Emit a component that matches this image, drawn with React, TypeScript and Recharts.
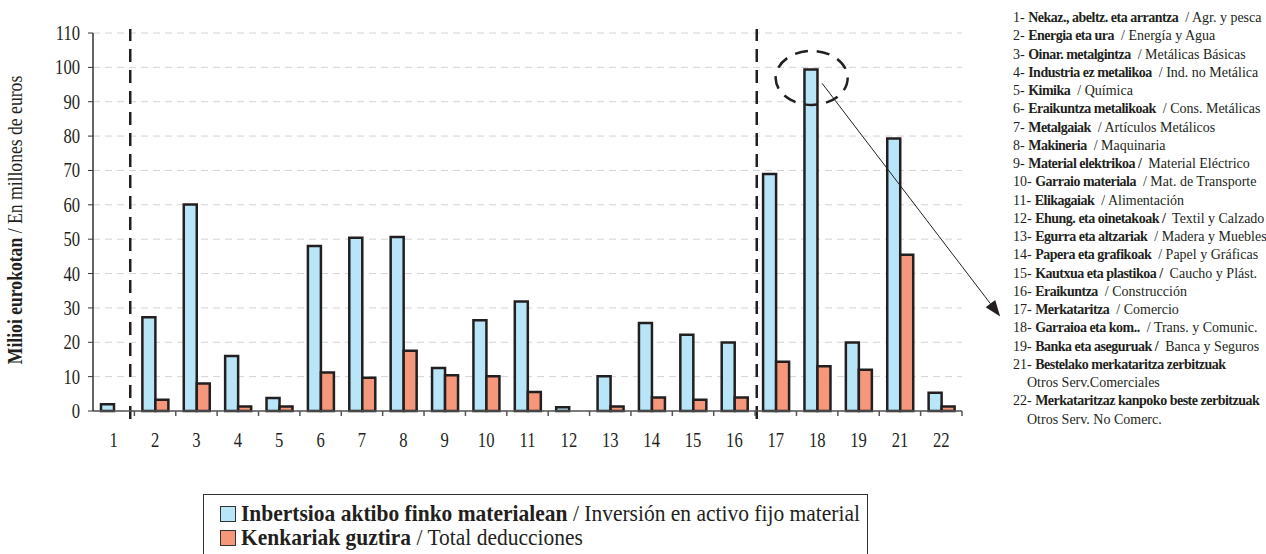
import React from 'react';
import { BarChart, Bar, XAxis, YAxis, CartesianGrid, ReferenceLine, ReferenceDot } from 'recharts';

// sector codes on the x axis
const categories = ['1', '2', '3', '4', '5', '6', '7', '8', '9', '10', '11', '12', '13', '14', '15', '16', '17', '18', '19', '21', '22'];

// Inbertsioa aktibo finko materialean / Inversión en activo fijo material
const inversion = [2.0, 27.3, 60.1, 16.0, 3.8, 48.0, 50.4, 50.6, 12.5, 26.4, 31.9, 1.1, 10.1, 25.6, 22.2, 19.9, 69.0, 99.4, 19.9, 79.3, 5.3];
// Kenkariak guztira / Total deducciones
const deducciones = [0, 3.3, 8.0, 1.3, 1.3, 11.2, 9.7, 17.5, 10.4, 10.1, 5.5, 0, 1.3, 3.9, 3.3, 3.9, 14.3, 13.0, 12.0, 45.5, 1.3];

const yTicks = [0, 10, 20, 30, 40, 50, 60, 70, 80, 90, 100, 110];

const sectorsEu = [
  'Nekaz., abeltz. eta arrantza', 'Energia eta ura', 'Oinar. metalgintza', 'Industria ez metalikoa', 'Kimika',
  'Eraikuntza metalikoak', 'Metalgaiak', 'Makineria', 'Material elektrikoa /', 'Garraio materiala',
  'Elikagaiak', 'Ehung. eta oinetakoak /', 'Egurra eta altzariak', 'Papera eta grafikoak', 'Kautxua eta plastikoa /',
  'Eraikuntza', 'Merkataritza', 'Garraioa eta kom..', 'Banka eta aseguruak /', 'Bestelako merkataritza zerbitzuak',
  'Merkataritzaz kanpoko beste zerbitzuak',
];
const sectorsEs = [
  '/ Agr. y pesca', '/ Energía y Agua', '/ Metálicas Básicas', '/ Ind. no Metálica', '/ Química',
  '/ Cons. Metálicas', '/ Artículos Metálicos', '/ Maquinaria', 'Material Eléctrico', '/ Mat. de Transporte',
  '/ Alimentación', 'Textil y Calzado', '/ Madera y Muebles', '/ Papel y Gráficas', 'Caucho y Plást.',
  '/ Construcción', '/ Comercio', '/ Trans. y Comunic.', 'Banca y Seguros', 'Otros Serv.Comerciales',
  'Otros Serv. No Comerc.',
];

const chartData = categories.map((c, i) => ({
  idx: i + 1,
  label: c,
  inversion: inversion[i],
  deducciones: deducciones[i],
}));

const FONT = '"Liberation Serif", "DejaVu Serif", serif';
const BLUE = '#b9e5f9';
const ORANGE = '#f4977b';
const INK = '#231f20';

const PLOT_LEFT = 93;
const PLOT_RIGHT = 962;
const BAND = (PLOT_RIGHT - PLOT_LEFT) / categories.length;
// the source uses a narrow Times, so text is squeezed horizontally
const NARROW = 0.83;

const XTick = (props: any) => {
  const { x, y, payload } = props;
  const edge = x + BAND / 2;
  return (
    <g>
      <line x1={edge} x2={edge} y1={y} y2={y + 5} stroke="#555" strokeWidth={1.5} />
      <text transform={`translate(${x},${y + 35.5}) scale(${NARROW},1)`} textAnchor="middle" fontSize={20} fill={INK} fontFamily={FONT}>
        {categories[payload.value - 1]}
      </text>
    </g>
  );
};

const YTick = (props: any) => {
  const { x, y, payload } = props;
  return (
    <text transform={`translate(${x},${y + 7}) scale(${NARROW},1)`} textAnchor="end" fontSize={20} fill={INK} fontFamily={FONT}>
      {payload.value}
    </text>
  );
};

// dashed circle round bar 18 and the arrow pointing to the sector list
const Highlight = (props: any) => {
  const { cx, cy } = props;
  const x1 = cx + 5;
  const y1 = cy + 14;
  const x2 = cx + 183;
  const y2 = cy + 247;
  const len = Math.hypot(x2 - x1, y2 - y1);
  const ux = (x2 - x1) / len;
  const uy = (y2 - y1) / len;
  const bx = x2 - ux * 16;
  const by = y2 - uy * 16;
  const head = `${x2},${y2} ${bx - uy * 6},${by + ux * 6} ${bx + uy * 6},${by - ux * 6}`;
  return (
    <g>
      <ellipse cx={cx - 5.5} cy={cy + 8.5} rx={36} ry={27} fill="none" stroke={INK} strokeWidth={2.5} strokeDasharray="13 9" />
      <line x1={x1} y1={y1} x2={bx} y2={by} stroke={INK} strokeWidth={1} />
      <polygon points={head} fill={INK} />
    </g>
  );
};

const App: React.FC = () => {
  return (
    <div style={{ position: 'absolute', left: 0, top: 0, width: 1266, height: 554, background: '#fff', fontFamily: FONT, color: INK, overflow: 'hidden' }}>
      <BarChart
        width={1266}
        height={460}
        data={chartData}
        margin={{ top: 33, right: 1266 - PLOT_RIGHT, left: 0, bottom: 19 }}
        barGap={0}
      >
        <CartesianGrid horizontal vertical={false} stroke="#d4d4d4" strokeDasharray="7 5" />
        <XAxis
          dataKey="idx"
          type="number"
          domain={[0.5, categories.length + 0.5]}
          ticks={chartData.map(d => d.idx)}
          interval={0}
          height={30}
          tickLine={false}
          tickSize={0}
          tickMargin={0}
          tick={<XTick />}
          axisLine={{ stroke: '#555', strokeWidth: 1.5 }}
        />
        <YAxis
          width={PLOT_LEFT}
          domain={[0, 110]}
          ticks={yTicks}
          interval={0}
          tickSize={5}
          tickMargin={8}
          tick={<YTick />}
          tickLine={{ stroke: '#333' }}
          axisLine={{ stroke: '#333', strokeWidth: 1.5 }}
        />
        <ReferenceLine
          segment={[{ x: 1.4, y: -2.3 }, { x: 1.4, y: 111.2 }]}
          ifOverflow="visible"
          stroke={INK}
          strokeWidth={2.5}
          strokeDasharray="13 8"
        />
        <ReferenceLine
          segment={[{ x: 16.54, y: -2.3 }, { x: 16.54, y: 111.2 }]}
          ifOverflow="visible"
          stroke={INK}
          strokeWidth={2.5}
          strokeDasharray="13 8"
        />
        <Bar dataKey="inversion" fill={BLUE} stroke={INK} strokeWidth={2.5} barSize={13} isAnimationActive={false} />
        <Bar dataKey="deducciones" fill={ORANGE} stroke={INK} strokeWidth={2.5} barSize={13} isAnimationActive={false} />
        <ReferenceDot x={18} y={inversion[17]} ifOverflow="visible" shape={<Highlight />} />
      </BarChart>

      {/* y axis title */}
      <svg width={40} height={460} style={{ position: 'absolute', left: 0, top: 0 }}>
        <text transform="translate(22,220) rotate(-90) scale(0.82,1)" textAnchor="middle" fontFamily={FONT} fontSize={21.5} fill={INK}>
          <tspan fontWeight="bold">Milioi eurokotan</tspan>
          <tspan> / En millones de euros</tspan>
        </text>
      </svg>

      {/* sector list */}
      <div
        style={{
          position: 'absolute',
          left: 1013,
          top: 0,
          fontSize: 15,
          lineHeight: '18.25px',
          whiteSpace: 'pre',
          paddingTop: 8,
          transform: 'scaleX(0.933)',
          transformOrigin: 'left top',
        }}
      >
        {sectorsEu.map((eu, i) => {
          const code = categories[i];
          const twoLines = code === '21' || code === '22';
          return (
            <React.Fragment key={code}>
              <div>
                {code}- <b style={{ letterSpacing: -0.53 }}>{eu}</b>{twoLines ? '' : '  ' + sectorsEs[i]}
              </div>
              {twoLines && <div style={{ paddingLeft: 15 }}>{sectorsEs[i]}</div>}
            </React.Fragment>
          );
        })}
      </div>

      {/* series legend */}
      <div
        style={{
          position: 'absolute',
          left: 203,
          top: 494,
          width: 665,
          height: 70,
          border: '1px solid #333',
          boxSizing: 'border-box',
          padding: '7px 0 0 16px',
          fontSize: 22.5,
          lineHeight: '24px',
          whiteSpace: 'nowrap',
        }}
      >
        {[
          { color: BLUE, eu: 'Inbertsioa aktibo finko materialean', es: 'Inversión en activo fijo material' },
          { color: ORANGE, eu: 'Kenkariak guztira', es: 'Total deducciones' },
        ].map(item => (
          <div key={item.eu} style={{ display: 'flex', alignItems: 'center' }}>
            <span style={{ display: 'inline-block', width: 14, height: 14, background: item.color, border: '1px solid #333', marginRight: 5, flex: 'none' }} />
            <span style={{ display: 'inline-block', transform: 'scaleX(0.955)', transformOrigin: 'left center' }}>
              <b>{item.eu}</b> / {item.es}
            </span>
          </div>
        ))}
      </div>
    </div>
  );
};

export default App;
